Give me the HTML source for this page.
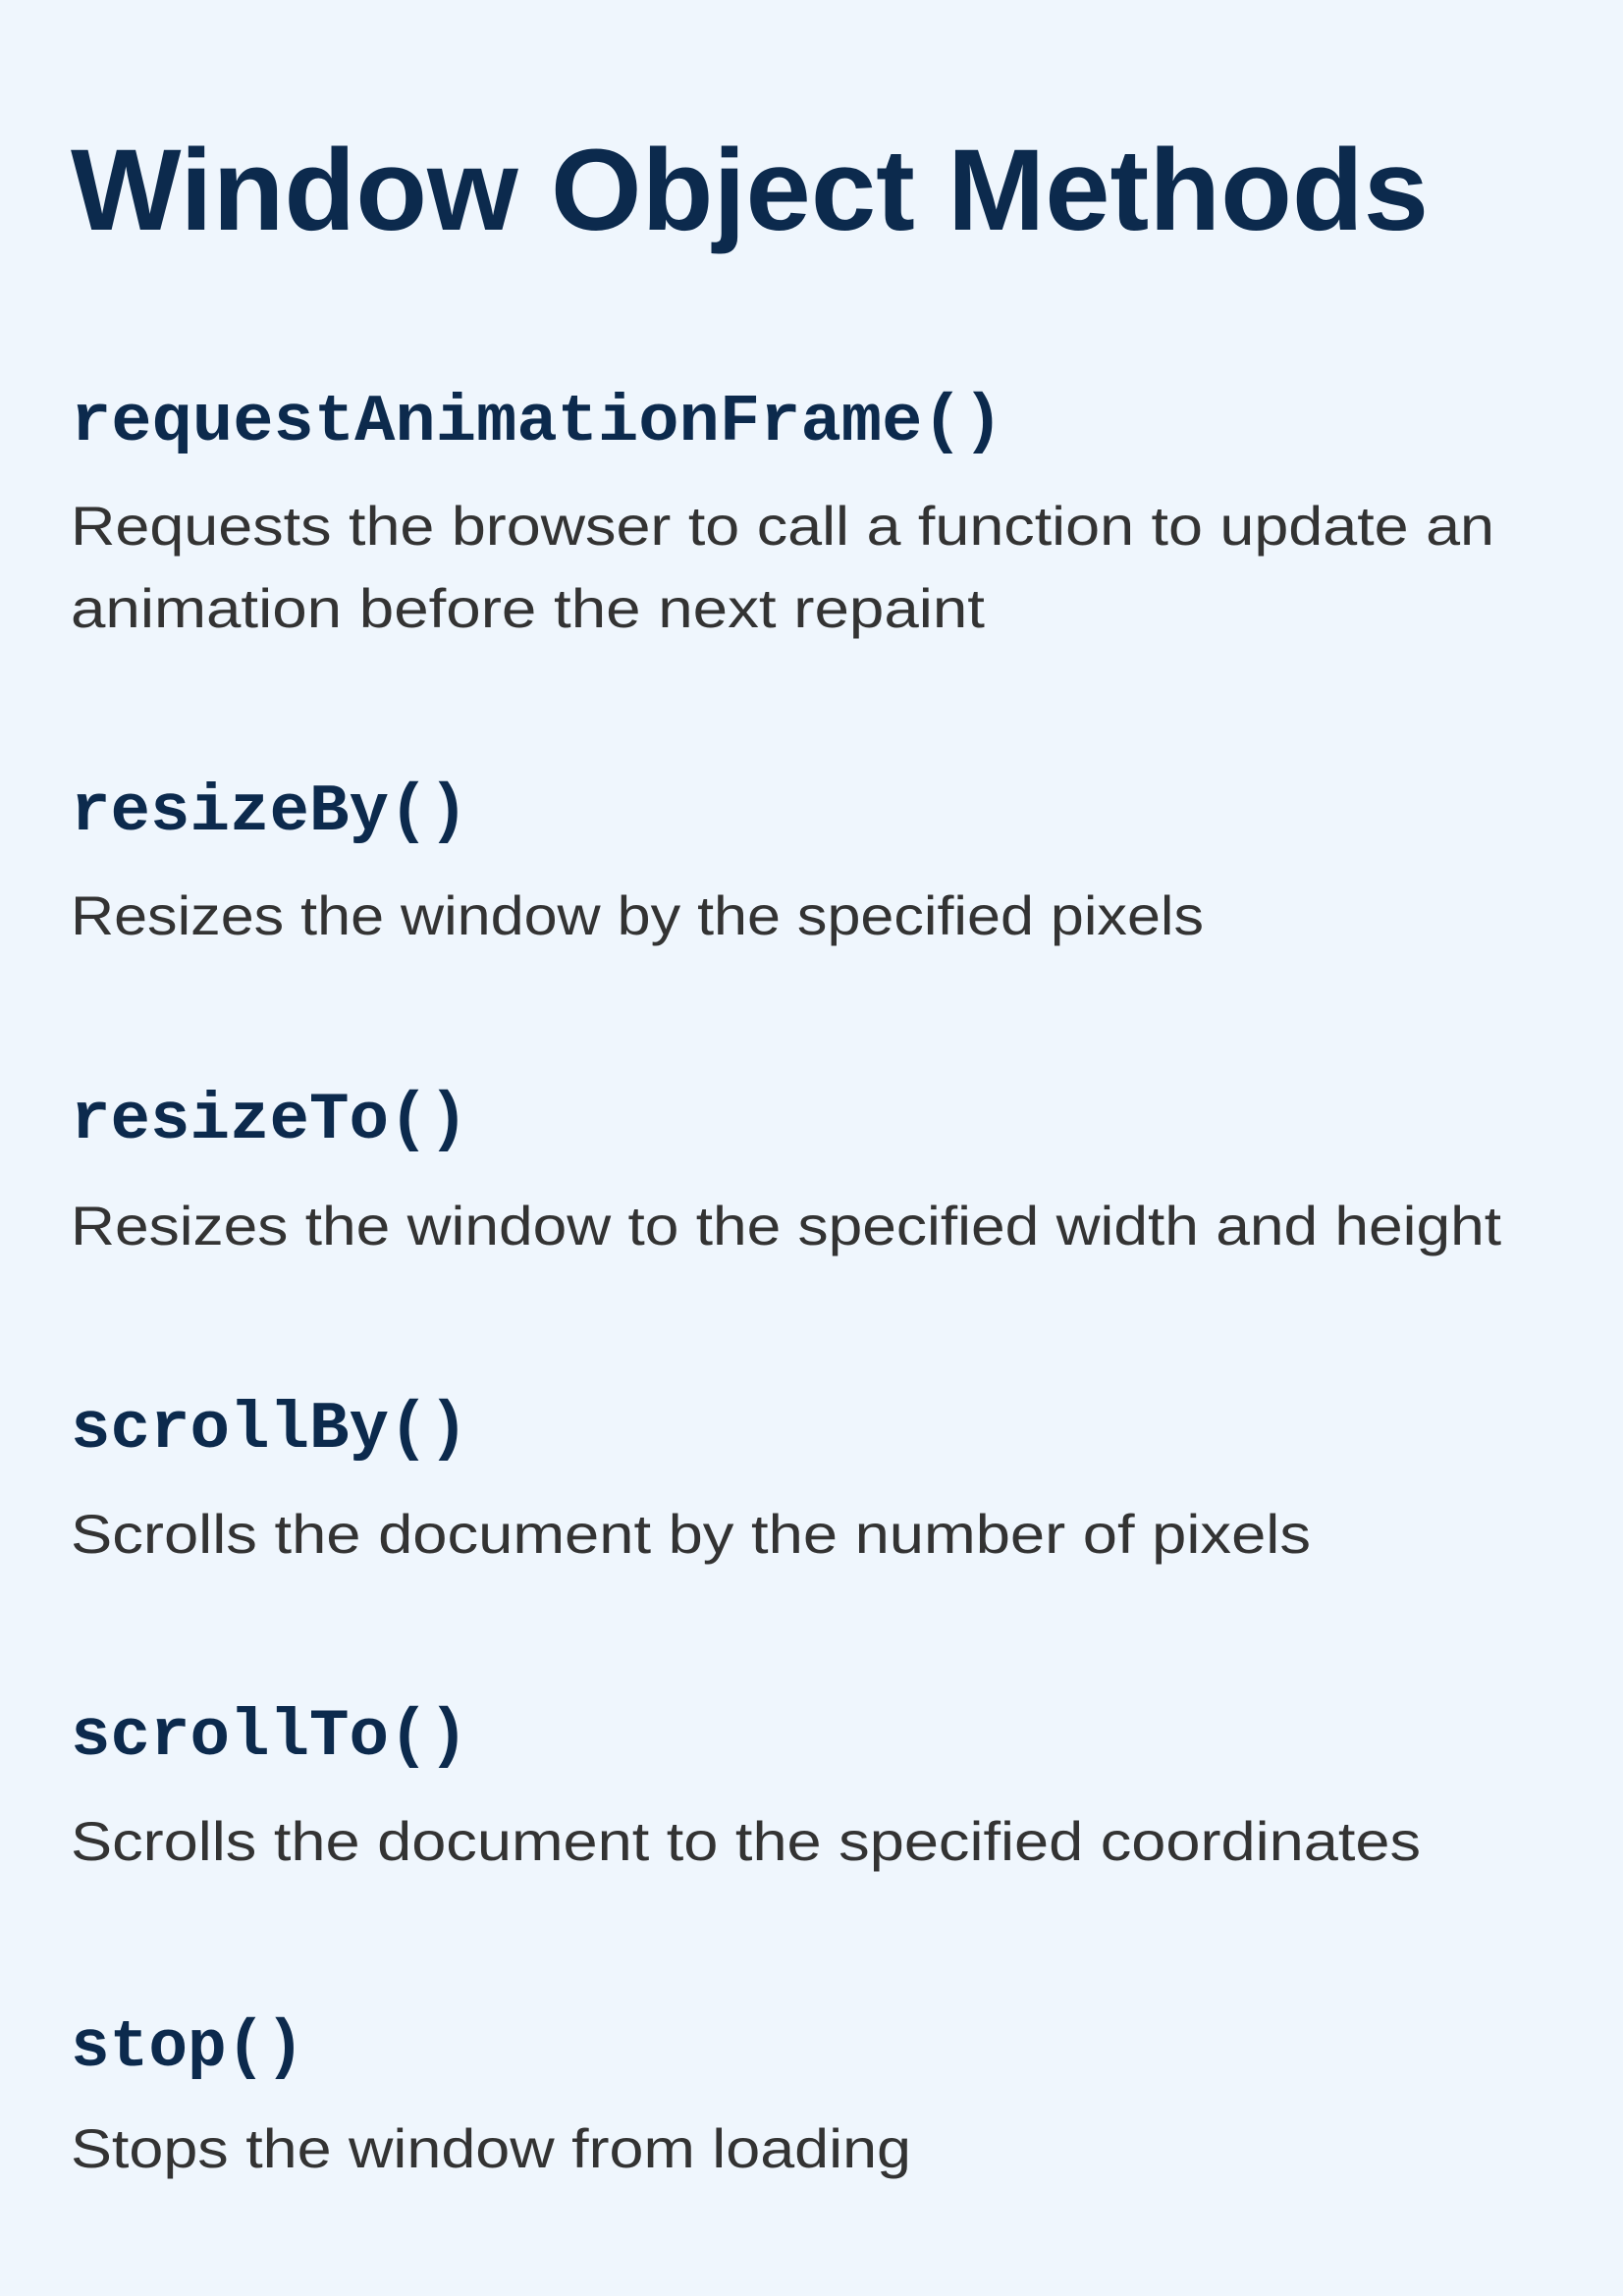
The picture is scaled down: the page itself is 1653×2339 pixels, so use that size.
<!DOCTYPE html>
<html><head><meta charset="utf-8"><style>
html,body{margin:0;padding:0;background:#eff6fd;}
svg{display:block}
.t{font-family:"Liberation Sans",sans-serif;font-weight:bold;fill:#0c2a4d}
.c{font-family:"Liberation Mono",monospace;font-weight:bold;fill:#0c2a4d;font-size:68px}
.d{font-family:"Liberation Sans",sans-serif;fill:#333333;font-size:56px}
</style></head><body>
<svg width="1653" height="2339" viewBox="0 0 1653 2339" xmlns="http://www.w3.org/2000/svg">
<rect width="1653" height="2339" fill="#eff6fd"/>
<text class="t" x="72" y="234" font-size="118" textLength="1383" lengthAdjust="spacingAndGlyphs">Window Object Methods</text>
<text class="c" x="72" y="448" textLength="950" lengthAdjust="spacingAndGlyphs">requestAnimationFrame()</text>
<text class="d" x="72" y="555" textLength="1450" lengthAdjust="spacingAndGlyphs">Requests the browser to call a function to update an</text>
<text class="d" x="72" y="639" textLength="931" lengthAdjust="spacingAndGlyphs">animation before the next repaint</text>
<text class="c" x="72" y="845" textLength="405" lengthAdjust="spacingAndGlyphs">resizeBy()</text>
<text class="d" x="72" y="952" textLength="1154" lengthAdjust="spacingAndGlyphs">Resizes the window by the specified pixels</text>
<text class="c" x="72" y="1159" textLength="405" lengthAdjust="spacingAndGlyphs">resizeTo()</text>
<text class="d" x="72" y="1268" textLength="1457" lengthAdjust="spacingAndGlyphs">Resizes the window to the specified width and height</text>
<text class="c" x="72" y="1474" textLength="405" lengthAdjust="spacingAndGlyphs">scrollBy()</text>
<text class="d" x="72" y="1582" textLength="1263" lengthAdjust="spacingAndGlyphs">Scrolls the document by the  number of pixels</text>
<text class="c" x="72" y="1787" textLength="405" lengthAdjust="spacingAndGlyphs">scrollTo()</text>
<text class="d" x="72" y="1895" textLength="1375" lengthAdjust="spacingAndGlyphs">Scrolls the document to the specified coordinates</text>
<text class="c" x="72" y="2104" textLength="238" lengthAdjust="spacingAndGlyphs">stop()</text>
<text class="d" x="72" y="2208" textLength="856" lengthAdjust="spacingAndGlyphs">Stops the window from loading</text>
</svg>
</body></html>
